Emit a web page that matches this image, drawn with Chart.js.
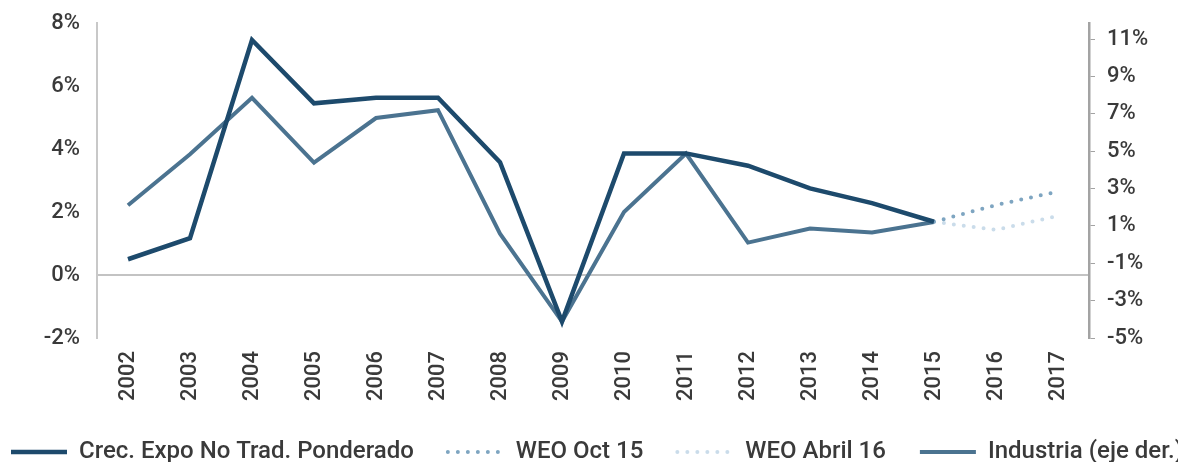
<!DOCTYPE html>
<html>
<head>
<meta charset="utf-8">
<script src="https://cdn.jsdelivr.net/npm/chart.js@4.4.1/dist/chart.umd.min.js"></script>
<style>
  html, body { margin: 0; padding: 0; background: #fff; }
  #wrap { width: 1178px; height: 462px; }
</style>
</head>
<body>
<div id="wrap"><canvas id="expoChart"></canvas></div>
<script>
const years = ['2002', '2003', '2004', '2005', '2006', '2007', '2008', '2009',
               '2010', '2011', '2012', '2013', '2014', '2015', '2016', '2017'];

// left axis (%)
const expoNoTrad = [0.50, 1.17, 7.46, 5.45, 5.63, 5.63, 3.58, -1.48, 3.86, 3.86, 3.47, 2.75, 2.28, 1.69, null, null];
const weoOct15 = [null, null, null, null, null, null, null, null, null, null, null, null, null, 1.69, 2.22, 2.65];
const weoAbril16 = [null, null, null, null, null, null, null, null, null, null, null, null, null, 1.69, 1.43, 1.88];
// right axis (%)
const industria = [2.11, 4.84, 7.86, 4.39, 6.78, 7.20, 0.59, -4.12, 1.75, 4.88, 0.11, 0.86, 0.65, 1.21, null, null];

const leftTicks = [-2, 0, 2, 4, 6, 8];
const rightTicks = [-5, -3, -1, 1, 3, 5, 7, 9, 11];

const textColor = '#3a3a3a';
const fontFamily = "Roboto, 'Noto Sans', sans-serif";
const tickFont = { family: fontFamily, size: 22, weight: '500', lineHeight: 1 };
const legendFont = { family: fontFamily, size: 24, weight: '500' };
const legendHeight = 56;
const legendStartX = 11;

// one legend row, wider than the canvas, starting near the left edge
const legendRowPlugin = {
    id: 'legendRow',
    beforeLayout(chart) {
        const legend = chart.legend;
        if (!legend || legend._patched) return;
        const fit = legend.fit;
        legend.fit = function() {
            const mw = this.maxWidth;
            this.maxWidth = 2000;
            fit.call(this);
            this.maxWidth = mw;
            this.width = mw;
            this.height = legendHeight;
        };
        legend._patched = true;
    },
    afterLayout(chart) {
        const legend = chart.legend;
        if (!legend || !legend.lineWidths) return;
        const pad = legend.options.labels.padding;
        // row is centred between left and right, so pick them to put it at legendStartX
        legend.right = 3000;
        legend.left = 2 * legendStartX - pad - legend.right + legend.lineWidths[0];
        legend.width = legend.right - legend.left;
    }
};

const ctx = document.getElementById('expoChart').getContext('2d');
let expoChart = new Chart(ctx, {
    type: 'line',
    data: {
        labels: years,
        datasets: [{
            label: 'Crec. Expo No Trad. Ponderado',
            data: expoNoTrad,
            yAxisID: 'y',
            borderColor: '#1d4a6c',
            backgroundColor: '#1d4a6c',
            borderWidth: 4.5,
            borderJoinStyle: 'miter'
        }, {
            label: 'WEO Oct 15',
            data: weoOct15,
            yAxisID: 'y',
            borderColor: '#7ea5c1',
            backgroundColor: '#7ea5c1',
            borderWidth: 4,
            borderDash: [0, 10],
            borderCapStyle: 'round'
        }, {
            label: 'WEO Abril 16',
            data: weoAbril16,
            yAxisID: 'y',
            borderColor: '#cadcea',
            backgroundColor: '#cadcea',
            borderWidth: 4,
            borderDash: [0, 10],
            borderCapStyle: 'round'
        }, {
            label: 'Industria (eje der.)',
            data: industria,
            yAxisID: 'y1',
            borderColor: '#4b7390',
            backgroundColor: '#4b7390',
            borderWidth: 4,
            borderJoinStyle: 'miter'
        }]
    },
    options: {
        responsive: true,
        maintainAspectRatio: false,
        animation: false,
        layout: { padding: { left: 0, right: 0, top: 0, bottom: 0 } },
        elements: { point: { radius: 0 }, line: { tension: 0 } },
        plugins: {
            tooltip: { enabled: false },
            legend: {
                position: 'bottom',
                labels: {
                    usePointStyle: true,
                    pointStyle: 'line',
                    pointStyleWidth: 56,
                    padding: 34,
                    color: textColor,
                    font: legendFont,
                    generateLabels: chart => chart.data.datasets.map((ds, i) => ({
                        text: ds.label,
                        datasetIndex: i,
                        fillStyle: ds.borderColor,
                        strokeStyle: ds.borderColor,
                        fontColor: textColor,
                        lineWidth: ds.borderWidth,
                        lineDash: ds.borderDash || [],
                        lineCap: ds.borderCapStyle || 'butt',
                        pointStyle: 'line',
                        hidden: false
                    }))
                }
            }
        },
        scales: {
            x: {
                offset: true,
                grid: { display: false },
                border: { display: false },
                ticks: {
                    color: textColor,
                    font: tickFont,
                    minRotation: 90,
                    maxRotation: 90,
                    padding: 5
                },
                afterFit: scale => { scale.height = 68; }
            },
            y: {
                position: 'left',
                min: -2,
                max: 8,
                afterBuildTicks: axis => { axis.ticks = leftTicks.map(v => ({ value: v })); },
                afterFit: scale => { scale.width = 97; },
                border: { display: true, color: '#c8c8c8', width: 2 },
                grid: {
                    drawTicks: true,
                    tickLength: 5,
                    tickColor: 'rgba(0,0,0,0)',
                    lineWidth: 2,
                    color: c => (c.tick && c.tick.value === 0 ? '#c3c3c3' : 'rgba(0,0,0,0)')
                },
                ticks: {
                    color: textColor,
                    font: tickFont,
                    padding: 12,
                    callback: v => v + '%'
                }
            },
            y1: {
                position: 'right',
                min: -5,
                max: 11.87,
                afterBuildTicks: axis => { axis.ticks = rightTicks.map(v => ({ value: v })); },
                afterFit: scale => { scale.width = 89; },
                border: { display: true, color: '#a3a3a3', width: 2.5 },
                grid: {
                    drawOnChartArea: false,
                    drawTicks: true,
                    tickLength: 6,
                    color: '#a3a3a3'
                },
                ticks: {
                    color: textColor,
                    font: tickFont,
                    padding: 12,
                    callback: v => v + '%'
                }
            }
        }
    },
    plugins: [legendRowPlugin]
});
</script>
</body>
</html>
